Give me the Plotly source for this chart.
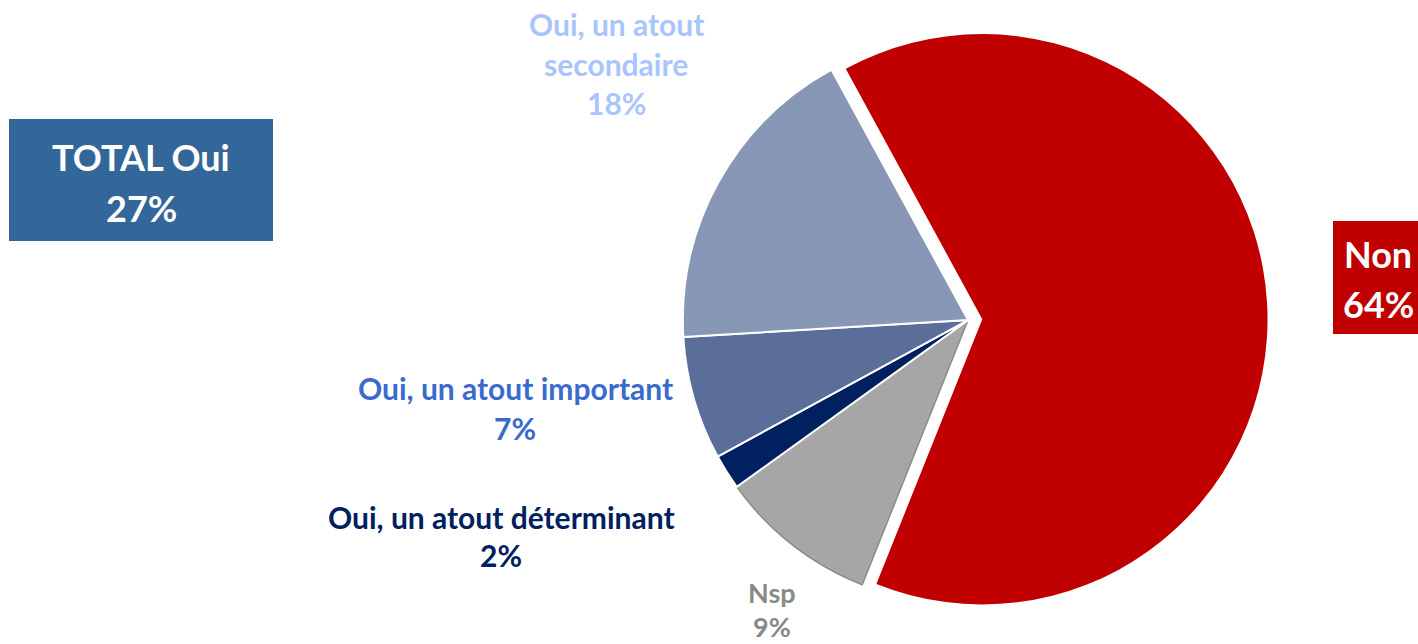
import plotly.graph_objects as go

# Données
categories = ['Non', 'Nsp', 'Oui, un atout déterminant', 'Oui, un atout important', 'Oui, un atout secondaire']
valeurs = [64, 9, 2, 7, 18]
couleurs = ['#C00000', '#A6A6A6', '#002060', '#5B6E99', '#8797B5']
contours = ['white', '#8C8C8C', 'white', 'white', 'white']
total_oui = 27

W, H = 1418, 644

fig = go.Figure(data=[
    go.Pie(labels=categories, values=valeurs, sort=False, direction='clockwise',
           rotation=-28.6, pull=[0.05, 0, 0, 0, 0],
           marker=dict(colors=couleurs, line=dict(color=contours, width=[0, 1.5, 2, 2, 2])),
           textinfo='none', hoverinfo='label+percent', showlegend=False,
           domain=dict(x=[0.4715, 0.8939], y=[0.037, 0.969]))
])

# Étiquettes (une annotation par ligne)
lignes = [
    ('Oui, un atout', 616, 24, '#A9C4FF', 30),
    ('secondaire', 616, 64, '#A9C4FF', 30),
    ('18%', 616, 103, '#A9C4FF', 30),
    ('Oui, un atout important', 515, 388, '#3A6BCC', 30),
    ('7%', 515, 428, '#3A6BCC', 30),
    ('Oui, un atout déterminant', 501, 517, '#002060', 30),
    ('2%', 501, 555, '#002060', 30),
    ('Nsp', 772, 592, '#898989', 27),
    ('9%', 772, 626, '#898989', 27),
    ('Non', 1378, 254, 'white', 36),
    ('64%', 1378, 304, 'white', 36),
    ('TOTAL Oui', 141, 157, 'white', 36),
    (f'{total_oui}%', 141, 208, 'white', 36),
]

fig.add_shape(type='rect', xref='paper', yref='paper', x0=9 / W, x1=273 / W,
              y0=1 - 241 / H, y1=1 - 119 / H, fillcolor='#336699', line_width=0, layer='below')
fig.add_shape(type='rect', xref='paper', yref='paper', x0=1333 / W, x1=1,
              y0=1 - 334 / H, y1=1 - 221 / H, fillcolor='#C00000', line_width=0, layer='below')

for txt, x, y, c, s in lignes:
    fig.add_annotation(text=txt, x=x / W, y=1 - y / H, xref='paper', yref='paper',
                       xanchor='center', yanchor='middle', showarrow=False,
                       font=dict(family='Lato', size=s, color=c, weight='bold'))

fig.update_layout(width=W, height=H, margin=dict(l=0, r=0, t=0, b=0),
                  paper_bgcolor='white', plot_bgcolor='white')

fig.write_html("out.html", config={'displayModeBar': False},
               post_script="document.body.style.margin='0';")
